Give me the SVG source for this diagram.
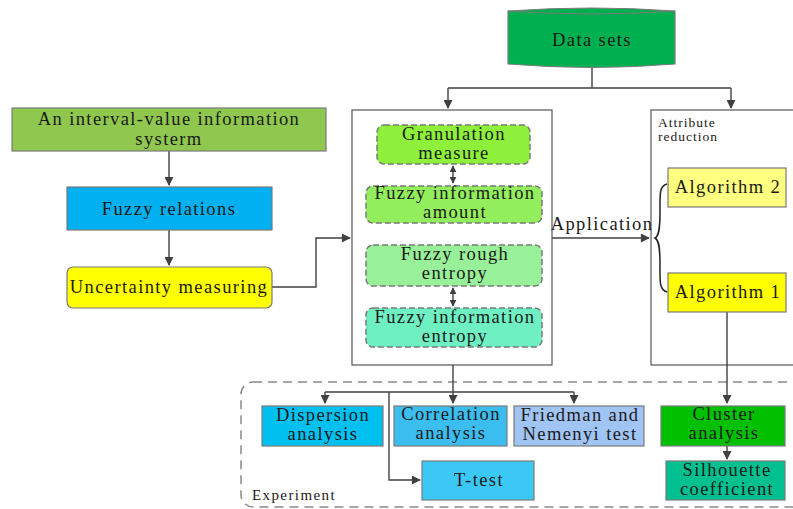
<svg xmlns="http://www.w3.org/2000/svg" width="793" height="509" viewBox="0 0 793 509">
<defs>
<marker id="ah" viewBox="0 0 10 10" refX="9" refY="5" markerWidth="7" markerHeight="7" orient="auto-start-reverse" markerUnits="userSpaceOnUse"><path d="M0,0 L10,5 L0,10 Z" fill="#404040"/></marker>
<marker id="ah2" viewBox="0 0 10 10" refX="9" refY="5" markerWidth="10" markerHeight="9" orient="auto-start-reverse" markerUnits="userSpaceOnUse"><path d="M0,0 L10,5 L0,10 Z" fill="#404040"/></marker>
<style>
text{font-family:"Liberation Serif","Times New Roman",serif;fill:#1a1a1a;text-anchor:middle;}
.t{font-size:18.5px;letter-spacing:1.4px;}
.s{font-size:13.5px;letter-spacing:1px;text-anchor:start;}
.e{font-size:15px;letter-spacing:1.4px;text-anchor:start;}
.box{stroke:#7a7a7a;stroke-width:1.2;}
.dbox{stroke:#7a7a7a;stroke-width:1.5;stroke-dasharray:6,3;}
.ln{fill:none;stroke:#404040;stroke-width:1.4;}
.panel{fill:#ffffff;stroke:#555;stroke-width:1.2;}
</style>
</defs>
<rect width="793" height="509" fill="#ffffff"/>

<g id="experiment-frame">
<rect x="241" y="382" width="570" height="125" rx="12" fill="none" stroke="#8a8a8a" stroke-width="1.5" stroke-dasharray="9,6"/>
<text class="e" x="252" y="500">Experiment</text>
</g>

<g id="panel-measures"><rect class="panel" x="352" y="110" width="200" height="255"/></g>
<g id="panel-attribute">
<rect class="panel" x="651" y="110" width="160" height="255"/>
<text class="s" x="658" y="127">Attribute</text>
<text class="s" x="658" y="141">reduction</text>
</g>

<g id="connectors">
<path class="ln" d="M592,68 V88"/>
<path class="ln" d="M448,88 H731"/>
<path class="ln" d="M448,88 V108" marker-end="url(#ah2)"/>
<path class="ln" d="M731,88 V108" marker-end="url(#ah2)"/>
<path class="ln" d="M169,151 V185" marker-end="url(#ah2)"/>
<path class="ln" d="M169,230 V265" marker-end="url(#ah2)"/>
<path class="ln" d="M272,287 H316 V238 H350" marker-end="url(#ah2)"/>
<path class="ln" d="M453,166 V183" marker-start="url(#ah)" marker-end="url(#ah)"/>
<path class="ln" d="M453,288 V306" marker-start="url(#ah)" marker-end="url(#ah)"/>
<path class="ln" d="M552,238 H649" marker-end="url(#ah2)"/>
<path d="M667,184 C659,186 660,195 660,212 C660,228 659,236 655,238 C659,240 660,248 660,264 C660,281 659,290 667,292" fill="none" stroke="#222" stroke-width="1.5"/>
<path class="ln" d="M727,312 V403" marker-end="url(#ah2)"/>
<path class="ln" d="M727,446 V459" marker-end="url(#ah2)"/>
<path class="ln" d="M453,365 V403" marker-end="url(#ah2)"/>
<path class="ln" d="M325,392 H574"/>
<path class="ln" d="M325,392 V403" marker-end="url(#ah2)"/>
<path class="ln" d="M574,392 V403" marker-end="url(#ah2)"/>
<path class="ln" d="M389,392 V480 H420" marker-end="url(#ah2)"/>
</g>

<g id="data-sets">
<path d="M508,11 Q592,5 675,11 V64 Q592,71 508,64 Z" fill="#00b050" stroke="#7a7a7a" stroke-width="1.2"/>
<path d="M508,11 Q592,17 675,11" fill="none" stroke="#7a7a7a" stroke-width="1"/>
<text class="t" x="592" y="46">Data sets</text>
</g>

<g id="interval-value">
<rect class="box" x="12" y="108" width="314" height="43" fill="#8fc74f"/>
<text class="t" x="169" y="125">An interval-value information</text>
<text class="t" x="169" y="145">systerm</text>
</g>

<g id="fuzzy-relations">
<rect class="box" x="67" y="187" width="205" height="43" fill="#00b0f0"/>
<text class="t" x="169" y="215">Fuzzy relations</text>
</g>

<g id="uncertainty">
<rect class="box" x="67" y="267" width="205" height="41" rx="6" fill="#ffff00"/>
<text class="t" x="169" y="293">Uncertainty measuring</text>
</g>

<g id="granulation">
<rect class="dbox" x="377" y="125" width="153" height="39" rx="7" fill="#8ef03a"/>
<text class="t" x="454" y="140">Granulation</text>
<text class="t" x="454" y="159">measure</text>
</g>

<g id="info-amount">
<rect class="dbox" x="366" y="186" width="176" height="37" rx="7" fill="#92ee5c"/>
<text class="t" x="455" y="199">Fuzzy information</text>
<text class="t" x="455" y="218">amount</text>
</g>

<g id="rough-entropy">
<rect class="dbox" x="366" y="245" width="176" height="41" rx="7" fill="#98f098"/>
<text class="t" x="455" y="260">Fuzzy rough</text>
<text class="t" x="455" y="279">entropy</text>
</g>

<g id="info-entropy">
<rect class="dbox" x="366" y="308" width="176" height="39" rx="7" fill="#6ff0c2"/>
<text class="t" x="455" y="323">Fuzzy information</text>
<text class="t" x="455" y="342">entropy</text>
</g>

<g id="application-label"><text class="t" x="602" y="230">Application</text></g>

<g id="algorithm2">
<rect class="box" x="668" y="168" width="118" height="39" fill="#ffff80"/>
<text class="t" x="728" y="193">Algorithm 2</text>
</g>

<g id="algorithm1">
<rect class="box" x="668" y="273" width="118" height="39" fill="#ffff00"/>
<text class="t" x="728" y="298">Algorithm 1</text>
</g>

<g id="dispersion">
<rect class="box" x="262" y="406" width="121" height="40" fill="#00c0f0"/>
<text class="t" x="323" y="421">Dispersion</text>
<text class="t" x="323" y="440">analysis</text>
</g>

<g id="correlation">
<rect class="box" x="394" y="406" width="113" height="40" fill="#3cbdf0"/>
<text class="t" x="451" y="420">Correlation</text>
<text class="t" x="451" y="439">analysis</text>
</g>

<g id="friedman">
<rect class="box" x="514" y="406" width="130" height="40" fill="#a0c4f4"/>
<text class="t" x="580" y="421">Friedman and</text>
<text class="t" x="580" y="440">Nemenyi test</text>
</g>

<g id="t-test">
<rect class="box" x="422" y="461" width="112" height="39" fill="#3cc8f5"/>
<text class="t" x="479" y="486">T-test</text>
</g>

<g id="cluster">
<rect class="box" x="661" y="406" width="124" height="40" fill="#00c000"/>
<text class="t" x="724" y="420">Cluster</text>
<text class="t" x="724" y="439">analysis</text>
</g>

<g id="silhouette">
<rect class="box" x="666" y="461" width="119" height="39" fill="#00c090"/>
<text class="t" x="727" y="476">Silhouette</text>
<text class="t" x="727" y="495">coefficient</text>
</g>
</svg>
